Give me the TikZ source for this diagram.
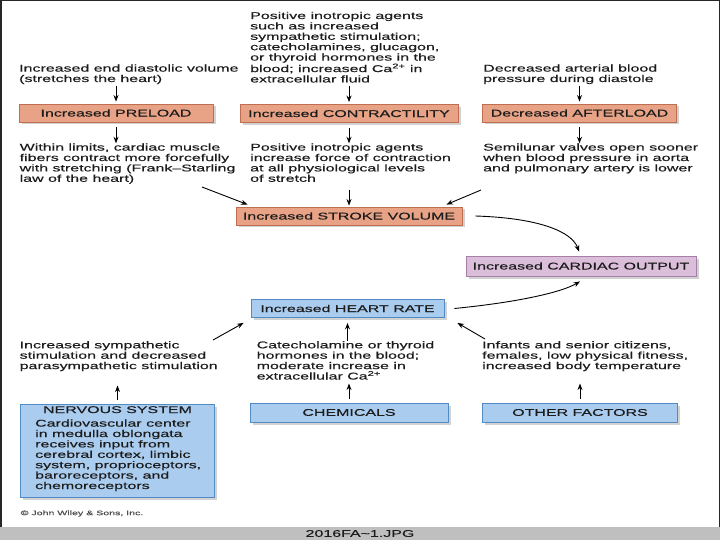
\documentclass[tikz,border=0pt]{standalone}
\usepackage{fontspec}
\newfontfamily\wf[FakeStretch=1.63,FakeBold=0.35]{Liberation Sans}
\usetikzlibrary{arrows.meta,shadows}
\definecolor{salfill}{RGB}{232,162,134}
\definecolor{saldraw}{RGB}{192,110,82}
\definecolor{purfill}{RGB}{218,190,218}
\definecolor{purdraw}{RGB}{166,126,166}
\definecolor{blufill}{RGB}{170,204,238}
\definecolor{bludraw}{RGB}{82,138,196}
\definecolor{txt}{RGB}{28,28,28}
\begin{document}
\begin{tikzpicture}[x=1pt,y=-1pt,
  every node/.style={font=\wf\fontsize{9.8}{10.4}\selectfont, text=txt, inner sep=0pt},
  txtblk/.style={anchor=north west, align=left},
  bx/.style={draw, line width=0.9pt, minimum height=18pt,
    drop shadow={shadow xshift=2.5pt, shadow yshift=-2.5pt, fill=black!35, opacity=0.5}},
  salbox/.style={bx, fill=salfill, draw=saldraw},
  purbox/.style={bx, fill=purfill, draw=purdraw},
  blubox/.style={bx, fill=blufill, draw=bludraw},
  arr/.style={-{Stealth[length=6.5pt,width=5pt]}, line width=0.9pt, draw=black},
]
\useasboundingbox (0,0) rectangle (720,540);
\fill[white] (0,0) rectangle (720,540);
% frame and bottom bar
\fill[black!85] (0,0) rectangle (720,1.5);
\fill[black!85] (0,0) rectangle (1.5,540);
\fill[black!85] (718.5,0) rectangle (720,540);
\fill[black!25] (0,527) rectangle (720,540);
\node (fname) at (360,533.5) {2016FA\textasciitilde1.JPG};

% top texts
\node[txtblk] (t1) at (19,64.3) {Increased end diastolic volume\\(stretches the heart)};
\node[txtblk] (t2) at (250,11.7) {Positive inotropic agents\\such as increased\\sympathetic stimulation;\\catecholamines, glucagon,\\or thyroid hormones in the\\blood; increased Ca\textsuperscript{2+} in\\extracellular fluid};
\node[txtblk] (t3) at (483,64.3) {Decreased arterial blood\\pressure during diastole};

% top boxes
\node[salbox, minimum width=194pt] (pre) at (116,113) {Increased PRELOAD};
\node[salbox, minimum width=218pt] (con) at (349,113.5) {Increased CONTRACTILITY};
\node[salbox, minimum width=194pt] (aft) at (579.5,113) {Decreased AFTERLOAD};

% middle texts
\node[txtblk] (m1) at (19.5,143.3) {Within limits, cardiac muscle\\fibers contract more forcefully\\with stretching (Frank–Starling\\law of the heart)};
\node[txtblk] (m2) at (250,143.3) {Positive inotropic agents\\increase force of contraction\\at all physiological levels\\of stretch};
\node[txtblk] (m3) at (483,143.3) {Semilunar valves open sooner\\when blood pressure in aorta\\and pulmonary artery is lower};

% arrows top
\draw[arr] ([yshift=18pt]pre.north) -- ([yshift=2pt]pre.north);
\draw[arr] ([yshift=18pt]con.north) -- ([yshift=2pt]con.north);
\draw[arr] ([yshift=18pt]aft.north) -- ([yshift=2pt]aft.north);
\draw[arr] ([yshift=-5pt]pre.south) -- (m1.north -| pre.south);
\draw[arr] ([yshift=-5pt]con.south) -- (m2.north -| con.south);
\draw[arr] ([yshift=-5pt]aft.south) -- (m3.north -| aft.south);

% stroke volume
\node[salbox, minimum width=226pt] (sv) at (349,216) {Increased STROKE VOLUME};
\coordinate (s1) at (202,187);
\coordinate (s3) at (481,190);
\draw[arr] (s1) -- ([xshift=12pt,yshift=2pt]sv.north west);
\draw[arr] ([yshift=17pt]sv.north) -- ([yshift=1pt]sv.north);
\draw[arr] (s3) -- ([xshift=-16pt,yshift=2pt]sv.north east);

% cardiac output
\node[purbox, minimum width=230pt, minimum height=20pt] (co) at (581,266) {Increased CARDIAC OUTPUT};
% heart rate
\node[blubox, minimum width=193pt, minimum height=18pt] (hr) at (347.5,308.5) {Increased HEART RATE};

\draw[arr] ([xshift=13pt]sv.east) .. controls (540,218) and (572,232) .. ([xshift=-2pt,yshift=4pt]co.north);
\draw[arr] ([xshift=10pt]hr.east) .. controls (520,302) and (562,292) .. ([xshift=-1pt,yshift=-5pt]co.south);

% bottom texts
\node[txtblk] (b1) at (19.5,341) {Increased sympathetic\\stimulation and decreased\\parasympathetic stimulation};
\node[txtblk] (b2) at (256.5,341) {Catecholamine or thyroid\\hormones in the blood;\\moderate increase in\\extracellular Ca\textsuperscript{2+}};
\node[txtblk] (b3) at (482,341) {Infants and senior citizens,\\females, low physical fitness,\\increased body temperature};

\coordinate (h1) at (213,340);
\coordinate (h3) at (485,339);
\draw[arr] (h1) -- ([xshift=-7pt,yshift=-5pt]hr.south west);
\draw[arr] ([yshift=-23pt]hr.south) -- ([yshift=-5pt]hr.south);
\draw[arr] (h3) -- ([xshift=13pt,yshift=-5pt]hr.south east);

% bottom boxes
\node[blubox, minimum width=194pt, minimum height=93pt] (ns) at (117.5,450.5) {};
\node[anchor=north] (nst) at (ns.north |- 0,406) {NERVOUS SYSTEM};
\node[txtblk] (nsb) at (35,419.3) {Cardiovascular center\\in medulla oblongata\\receives input from\\cerebral cortex, limbic\\system, proprioceptors,\\baroreceptors, and\\chemoreceptors};
\node[blubox, minimum width=198pt, minimum height=19pt] (chem) at (349,412.5) {CHEMICALS};
\node[blubox, minimum width=195pt, minimum height=19pt] (oth) at (580,412.5) {OTHER FACTORS};

\draw[arr] ([yshift=4pt]ns.north) -- ([yshift=18pt]ns.north);
\draw[arr] ([yshift=4pt]chem.north) -- ([yshift=19pt]chem.north);
\draw[arr] ([yshift=4pt]oth.north) -- ([yshift=19pt]oth.north);

\node[anchor=west, font=\wf\fontsize{6.5}{7}\selectfont, text=black!70] (copy) at (20.5,513.5) {© John Wiley \& Sons, Inc.};
\end{tikzpicture}
\end{document}
